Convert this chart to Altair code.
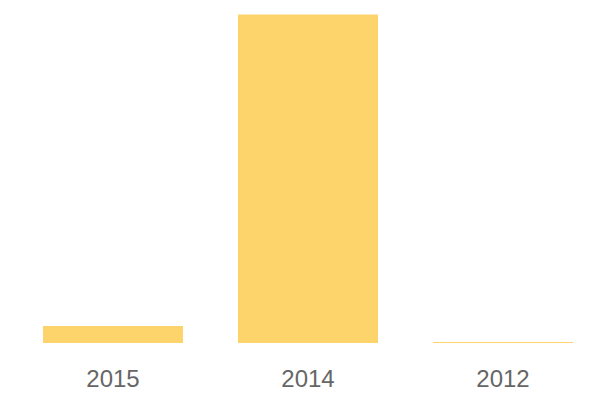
import altair as alt
import pandas as pd

years = ["2015", "2014", "2012"]
values = [5.2, 100, 0.3]

df = pd.DataFrame({"year": years, "value": values})

chart = alt.Chart(df).mark_bar(color="#FDD46B").encode(
    x=alt.X("year:N", sort=years,
            scale=alt.Scale(range=[35, 565], paddingInner=0.282, paddingOuter=0),
            axis=alt.Axis(title=None, domain=False, ticks=False, labelAngle=0,
                          labelFontSize=24, labelColor="#666666", labelFont="Liberation Sans",
                          labelPadding=24)),
    y=alt.Y("value:Q", scale=alt.Scale(domain=[0, 102], nice=False), axis=None),
).properties(width=584, height=335, padding=0).configure_view(stroke=None)

chart.save("out.html", embed_options={"renderer": "svg", "actions": False})
